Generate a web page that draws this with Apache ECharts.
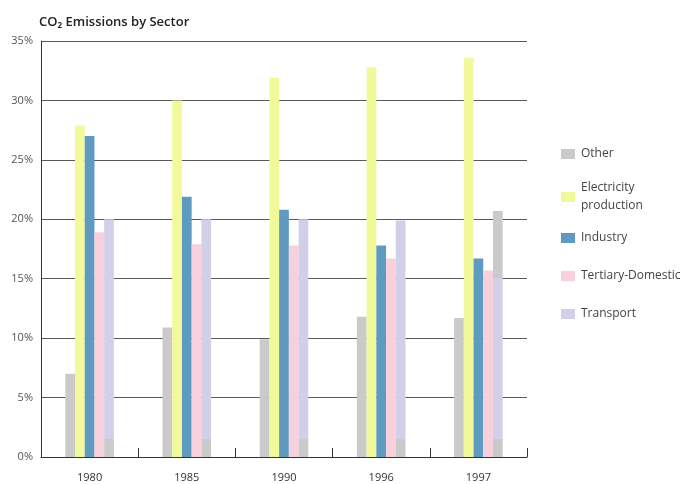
<!DOCTYPE html>
<html>
<head>
<meta charset="utf-8">
<style>
  html, body { margin: 0; padding: 0; background: #fff; }
  #chart { width: 686px; height: 484px; }
</style>
<script src="https://cdn.jsdelivr.net/npm/echarts@6/dist/echarts.min.js"></script>
</head>
<body>
<div id="chart"></div>
<script>
// Share of CO2 emissions by sector, in percent
const years = ['1980', '1985', '1990', '1996', '1997'];
const other = [7, 10.9, 9.9, 11.8, 11.7];
const electricity = [27.9, 30, 31.9, 32.8, 33.6];
const industry = [27, 21.9, 20.8, 17.8, 16.7];
const tertiary = [18.9, 17.9, 17.8, 16.7, 15.7];
const transport = [20, 20, 20, 19.9, 20.7];
const yTicks = { min: 0, max: 35, step: 5 };

const FONT = '"Open Sans", "Noto Sans", sans-serif';
const C = {
  other: '#cacaca',
  electricity: '#f1f99b',
  industry: '#5f9ac0',
  tertiary: '#f8d0dc',
  transport: '#d2cfe9'
};

// Transport bars are printed with a grey foot; the 1997 bar also has a grey cap.
function transportItem(v, i) {
  const foot = Math.min(1, 1.5 / v);
  const stops = [];
  if (years[i] === '1997') {
    const cap = (v - 15.1) / v;
    stops.push({ offset: 0, color: C.other }, { offset: cap, color: C.other },
               { offset: cap, color: C.transport });
  } else {
    stops.push({ offset: 0, color: C.transport });
  }
  stops.push({ offset: 1 - foot, color: C.transport }, { offset: 1 - foot, color: C.other },
             { offset: 1, color: C.other });
  return {
    value: v,
    itemStyle: { color: { type: 'linear', x: 0, y: 0, x2: 0, y2: 1, colorStops: stops } }
  };
}

const seriesDefs = [
  { name: 'Other', data: other, color: C.other },
  { name: 'Electricity production', data: electricity, color: C.electricity },
  { name: 'Industry', data: industry, color: C.industry },
  { name: 'Tertiary-Domestic', data: tertiary, color: C.tertiary },
  { name: 'Transport', data: transport.map(transportItem), color: C.transport }
];

// One legend block per entry so each sits at its own height
const legendRows = [
  { name: 'Other', top: 140 },
  { name: 'Electricity production', top: 174, label: 'Electricity\nproduction' },
  { name: 'Industry', top: 224 },
  { name: 'Tertiary-Domestic', top: 262 },
  { name: 'Transport', top: 300 }
];

const chart = echarts.init(document.getElementById('chart'), null, { renderer: 'canvas' });
chart.setOption({
  animation: false,
  backgroundColor: '#ffffff',
  title: {
    text: 'CO₂ Emissions by Sector',
    left: 34,
    top: 11,
    textStyle: { fontFamily: FONT, fontSize: 13, fontWeight: 600, color: '#222' }
  },
  legend: legendRows.map(r => ({
    data: [r.name],
    left: 556,
    top: r.top,
    orient: 'vertical',
    icon: 'rect',
    itemWidth: 14,
    itemHeight: 10,
    itemGap: 0,
    selectedMode: false,
    formatter: r.label ? () => r.label : '{name}',
    textStyle: { fontFamily: FONT, fontSize: 12, color: '#444', lineHeight: 18, padding: [0, 0, 0, 1] }
  })),
  grid: { left: 41, right: 159, top: 41, bottom: 27, containLabel: false },
  xAxis: {
    type: 'category',
    data: years,
    boundaryGap: true,
    axisLine: { lineStyle: { color: '#333', width: 1 } },
    axisTick: { show: true, inside: true, length: 9, lineStyle: { color: '#333' } },
    axisLabel: { margin: 15, fontFamily: FONT, fontSize: 11, color: '#333' }
  },
  yAxis: {
    type: 'value',
    min: yTicks.min,
    max: yTicks.max,
    interval: yTicks.step,
    axisLine: { show: true, lineStyle: { color: '#333', width: 1 } },
    axisTick: { show: false },
    axisLabel: { formatter: '{value}%', margin: 8, fontFamily: FONT, fontSize: 11, color: '#555' },
    splitLine: { show: true, lineStyle: { color: '#5a5a5a', width: 1 } }
  },
  series: seriesDefs.map(s => ({
    name: s.name,
    type: 'bar',
    data: s.data,
    barGap: '0%',
    barCategoryGap: '50%',
    itemStyle: { color: s.color },
    emphasis: { disabled: true }
  }))
});
</script>
</body>
</html>
